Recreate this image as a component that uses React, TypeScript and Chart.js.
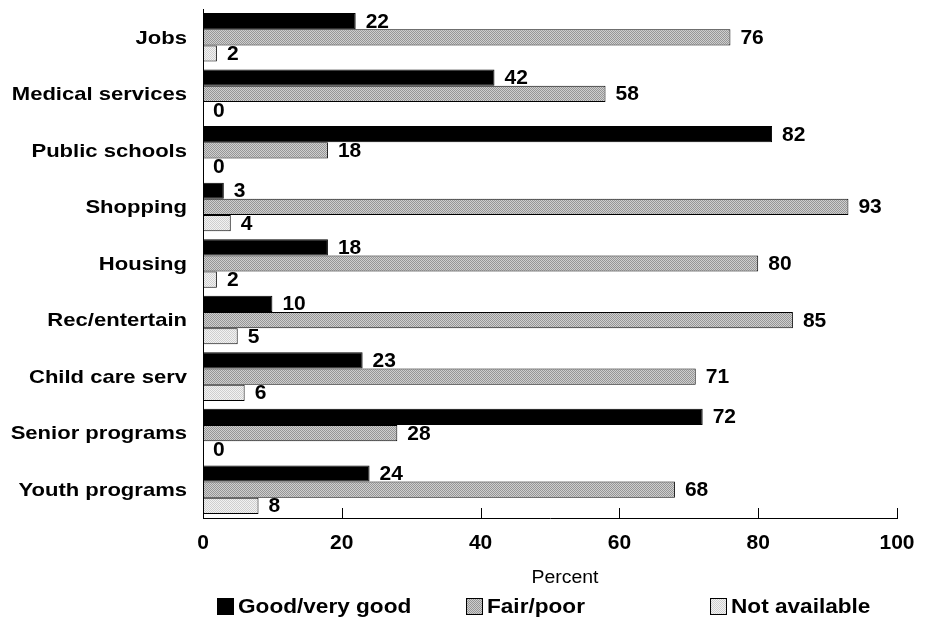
import React, { useEffect, useRef } from "react";
import { Chart, registerables } from "chart.js";

Chart.register(...registerables);

const categories = [
  "Jobs",
  "Medical services",
  "Public schools",
  "Shopping",
  "Housing",
  "Rec/entertain",
  "Child care serv",
  "Senior programs",
  "Youth programs",
];
const goodValues = [22, 42, 82, 3, 18, 10, 23, 72, 24];
const fairValues = [76, 58, 18, 93, 80, 85, 71, 28, 68];
const naValues = [2, 0, 0, 4, 2, 5, 6, 0, 8];
const xTicks = [0, 20, 40, 60, 80, 100];
const seriesNames = ["Good/very good", "Fair/poor", "Not available"];
const axisTitle = "Percent";

function makePattern(a: string, b: string): CanvasPattern | string {
  const c = document.createElement("canvas");
  c.width = 2;
  c.height = 2;
  const g = c.getContext("2d");
  if (!g) return a;
  g.fillStyle = a;
  g.fillRect(0, 0, 2, 2);
  g.fillStyle = b;
  g.fillRect(0, 0, 1, 1);
  g.fillRect(1, 1, 1, 1);
  const p = g.createPattern(c, "repeat");
  return p || a;
}

const BOLD = '"Liberation Sans", Arial, sans-serif';

function stretchText(
  ctx: CanvasRenderingContext2D,
  text: string,
  x: number,
  y: number,
  sx: number,
  align: CanvasTextAlign
) {
  ctx.save();
  ctx.translate(x, y);
  ctx.scale(sx, 1);
  ctx.textAlign = align;
  ctx.textBaseline = "middle";
  ctx.fillText(text, 0, 0);
  ctx.restore();
}

export default function App() {
  const ref = useRef<HTMLCanvasElement | null>(null);

  useEffect(() => {
    document.body.style.margin = "0";
    const canvas = ref.current;
    if (!canvas) return;
    const fairPat = makePattern("#cfcfcf", "#969696");
    const naPat = makePattern("#f2f2f2", "#cfcfcf");
    const fills = ["#000000", fairPat, naPat];

    const textPlugin = {
      id: "customText",
      afterDraw(chart: any) {
        const ctx: CanvasRenderingContext2D = chart.ctx;
        const xs = chart.scales.x;
        const ys = chart.scales.y;
        const area = chart.chartArea;
        ctx.save();
        // x tick marks (pointing up)
        ctx.strokeStyle = "#000";
        ctx.lineWidth = 1;
        xTicks.forEach((v) => {
          const x = Math.round(xs.getPixelForValue(v)) + 0.5;
          ctx.beginPath();
          ctx.moveTo(x, area.bottom);
          ctx.lineTo(x, area.bottom - 10);
          ctx.stroke();
        });
        ctx.fillStyle = "#000";
        // category labels
        ctx.font = `bold 19px ${BOLD}`;
        categories.forEach((c, i) => {
          const y = ys.getPixelForValue(i);
          stretchText(ctx, c, 187, y + 1, 1.16, "right");
        });
        // value labels
        ctx.font = `bold 20px ${BOLD}`;
        chart.data.datasets.forEach((ds: any, di: number) => {
          const meta = chart.getDatasetMeta(di);
          meta.data.forEach((bar: any, i: number) => {
            stretchText(ctx, String(ds.data[i]), bar.x + 10, bar.y + 1, 1.05, "left");
          });
        });
        // x tick labels
        xTicks.forEach((v) => {
          stretchText(ctx, String(v), xs.getPixelForValue(v), 543, 1.05, "center");
        });
        // axis title
        ctx.font = `18px ${BOLD}`;
        stretchText(ctx, axisTitle, 565, 578, 1.08, "center");
        // legend
        const legendBoxes = [217, 466, 710];
        ctx.font = `bold 20px ${BOLD}`;
        seriesNames.forEach((n, i) => {
          const bx = legendBoxes[i];
          const by = 598;
          ctx.fillStyle = fills[i] as any;
          ctx.fillRect(bx, by, 17, 17);
          ctx.strokeStyle = "#000";
          ctx.lineWidth = 1;
          ctx.strokeRect(bx + 0.5, by + 0.5, 16, 16);
          ctx.fillStyle = "#000";
          stretchText(ctx, n, bx + 21, 607, 1.13, "left");
        });
        ctx.restore();
      },
    };

    const chart = new Chart(canvas, {
      type: "bar",
      data: {
        labels: categories,
        datasets: [
          { label: seriesNames[0], data: goodValues, backgroundColor: fills[0] as any },
          { label: seriesNames[1], data: fairValues, backgroundColor: fills[1] as any },
          { label: seriesNames[2], data: naValues, backgroundColor: fills[2] as any },
        ],
      },
      options: {
        indexAxis: "y",
        responsive: false,
        animation: false,
        layout: { padding: { left: 203, top: 9, right: 33, bottom: 117 } },
        datasets: {
          bar: {
            borderColor: "#000",
            borderWidth: 1,
            borderSkipped: false,
            categoryPercentage: 0.86,
            barPercentage: 1,
          },
        },
        plugins: {
          legend: { display: false },
          tooltip: { enabled: false },
          title: { display: false },
        },
        scales: {
          x: {
            min: 0,
            max: 100,
            ticks: { display: false, stepSize: 20 },
            grid: { display: false, drawTicks: false },
            border: { display: true, color: "#000", width: 1 },
            afterFit: (s: any) => {
              s.height = 0;
            },
          },
          y: {
            ticks: { display: false },
            grid: { display: false, drawTicks: false },
            border: { display: true, color: "#000", width: 1 },
            afterFit: (s: any) => {
              s.width = 0;
            },
          },
        },
      },
      plugins: [textPlugin],
    });
    return () => chart.destroy();
  }, []);

  return <canvas ref={ref} width={930} height={635} style={{ display: "block" }} />;
}
